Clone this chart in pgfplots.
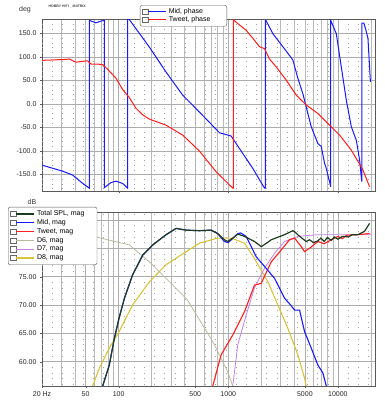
\documentclass[border=0pt]{standalone}
\usepackage{pgfplots}
\pgfplotsset{compat=1.18}
\usepackage{fontspec}
\setmainfont{Liberation Sans}

\definecolor{midc}{RGB}{25,25,255}
\definecolor{twc}{RGB}{255,30,30}
\definecolor{totc}{RGB}{30,60,30}
\definecolor{d6c}{RGB}{185,185,160}
\definecolor{d7c}{RGB}{195,130,225}
\definecolor{d8c}{RGB}{215,195,60}

\pgfplotsset{
  chk/.style={legend image code/.code={
     \draw[gray!80!black,fill=white,line width=0.4pt,solid,sharp corners] (0pt,-2.6pt) rectangle (5.5pt,2.6pt);
     \draw[#1,sharp corners] (5.5pt,0pt) -- (24pt,0pt);}},
}

\begin{document}
\begin{tikzpicture}
\useasboundingbox (0,0) rectangle (385pt,400pt);

\begin{axis}[scale only axis, width=333pt, height=172pt,
    at={(42pt,209pt)}, anchor=south west,
    xmode=log, xmin=20, xmax=21800,
    xtick={100,1000,10000}, xticklabels={},
    minor xtick={20,30,40,50,60,70,80,90,200,300,400,500,600,700,800,900,2000,3000,4000,5000,6000,7000,8000,9000,20000},
    xmajorgrids, xminorgrids, ymajorgrids,
    major grid style={gray!65, line width=0.5pt},
    minor grid style={gray!55, line width=0.4pt},
    axis line style={gray!70!black, line width=0.6pt},
    major tick length=2pt, minor tick length=0pt,
    tick pos=left, tick align=outside,
    tick style={gray!70!black},
    ticklabel style={font=\fontsize{7}{8}\selectfont, text=gray!30!black},
    ymin=-185, ymax=181, ytick={-150,-100,-50,0,50,100,150},
    yticklabels={-150.0,-100.0,-50.0,0.0,50.0,100.0,150.0},
    extra y ticks={-180,-170,-160,-140,-130,-120,-110,-90,-80,-70,-60,-40,-30,-20,-10,10,20,30,40,60,70,80,90,110,120,130,140,160,170},
    extra y tick labels={},
    extra y tick style={major tick length=0pt, grid=major,
       major grid style={gray!75, line width=0.7pt, dash pattern=on 0.7pt off 9.5pt}},
    legend cell align=left,
    legend style={font=\fontsize{7}{8}\selectfont, draw=gray!70!black, rounded corners=2pt,
       inner xsep=2pt, inner ysep=1pt, row sep=-2.2pt, fill=white,
       at={(0.294,1.081)}, anchor=north west},
  ]
\addplot[midc, line width=1pt, chk={midc,line width=1pt}] coordinates {
(20,-130)(31,-143)(38,-151)(46,-167)(54,-179)(54,178)(62,173)(70,177)(74,178)(74,-178)
(85.3,-167)(94.6,-164)(108.8,-169)(120.8,-179)(121,180)(125,180)(191,121)(271,68)(384,19)
(546,-17)(831,-61)(1062,-68)(1355,-105)(1675,-137)(2142,-179)(2180,-179)(2180,178)(2218,177)
(2548,150)(3148,122)(3881,94)(4312,55)(4790,22)(5711,-48)(6563,-84)(7047,-90)(7560,-126)
(7834,-137)(8570,-174)(8600,-176)(8600,178)(9666,150)(10740,79)(11930,8.5)(13250,-48)
(14720,-77)(15780,-119)(16500,-164)(16550,-164)(16550,172)(17270,172)(18170,154)(18800,140)
(19460,79)(19800,47)};
\addlegendentry{\makebox[54pt][l]{Mid, phase}}
\addplot[twc, line width=1pt, chk={twc,line width=1pt}] coordinates {
(20,93)(33.1,95)(35.5,96)(40.8,89)(46.9,91)(52.1,92)(56,85)(64.3,85)(71.5,84)(79.4,74)
(94.6,55)(108.8,31)(125,14)(144,-9)(166,-23)(191,-32)(271,-45)(384,-66)(546,-100)(775,-144)
(1099,-179)(1114,-179)(1114,180)(1140,177)(1456,157)(1675,140)(1927,122)(2142,118)(2378,96)
(2737,79)(3378,51)(4170,19)(5145,-2)(6563,-20)(7834,-38)(10370,-66)(13250,-98)(16910,-140)
(19460,-176)};
\addlegendentry{Tweet, phase}
\end{axis}

\begin{axis}[scale only axis, width=333pt, height=174pt,
    at={(42pt,14pt)}, anchor=south west,
    xmode=log, xmin=20, xmax=21800,
    xtick={20,50,100,500,1000,5000,10000},
    xticklabels={20 Hz,50,100,500,1000,5000,10000},
    minor xtick={20,30,40,50,60,70,80,90,200,300,400,500,600,700,800,900,2000,3000,4000,5000,6000,7000,8000,9000,20000},
    xmajorgrids, xminorgrids, ymajorgrids,
    major grid style={gray!65, line width=0.5pt},
    minor grid style={gray!55, line width=0.4pt},
    axis line style={gray!70!black, line width=0.6pt},
    major tick length=2pt, minor tick length=0pt,
    tick pos=left, tick align=outside,
    tick style={gray!70!black},
    ticklabel style={font=\fontsize{7}{8}\selectfont, text=gray!30!black},
    ymin=55.7, ymax=86.4, ytick={60,65,70,75,80,85},
    yticklabels={60.00,65.00,70.00,75.00,,},
    extra y ticks={56,57,58,59,61,62,63,64,66,67,68,69,71,72,73,74,76,77,78,79,81,82,83,84,86},
    extra y tick labels={},
    extra y tick style={major tick length=0pt, grid=major,
       major grid style={gray!75, line width=0.7pt, dash pattern=on 0.7pt off 9.5pt}},
    reverse legend,
    legend cell align=left,
    legend style={font=\fontsize{7}{8}\selectfont, draw=gray!70!black, rounded corners=2pt,
       inner xsep=2pt, inner ysep=1.5pt, row sep=-1.6pt, fill=white,
       at={(-0.102,1.029)}, anchor=north west},
  ]
\addplot[d8c, line width=1.1pt, chk={d8c,line width=1.1pt}] coordinates {
(57.9,55.7)(66.6,58.8)(82.2,62.4)(101,65.3)(134,70)(191,74.1)(271,77.1)(413,79.4)(546,80.9)
(801,81.8)(1062,81.8)(1406,80.9)(1734,78.2)(2294,74.1)(2832,70)(3493,65.9)(4312,61.2)
(4965,57.1)(5145,55.7)};
\addlegendentry{D8, mag}
\addplot[d7c, line width=0.8pt, chk={d7c,line width=0.8pt}] coordinates {
(1099,55.7)(1222,63)(1456,68.2)(1734,73)(2142,76.5)(2642,79.1)(3262,81.2)(4312,82.1)
(6563,82.4)(20180,82.4)};
\addlegendentry{D7, mag}
\addplot[d6c, line width=0.8pt, chk={d6c,line width=0.8pt}] coordinates {
(20,83.0)(40,82.6)(65,81.9)(125,80.6)(191,77.6)(290,74.1)(420,71.0)(546,67.4)(748,63)
(989,58.2)(1099,55.7)};
\addlegendentry{D6, mag}
\addplot[twc, line width=1.1pt, chk={twc,line width=1.1pt}] coordinates {
(722,55.7)(861,61.2)(1099,64.7)(1406,68.8)(1734,73.5)(1996,73.8)(2465,77.6)(3041,79.7)
(3620,81.5)(4024,81.8)(4632,80.3)(4965,79.4)(5513,80)(6563,81.2)(7500,80.8)(8703,81.5)
(10000,82.1)(11000,81.7)(12000,82.3)(15000,82.4)(19460,82.6)};
\addlegendentry{Tweet, mag}
\addplot[midc, line width=1.1pt, chk={midc,line width=1.1pt}] coordinates {
(71.5,55.7)(82.2,59.4)(91.4,64.1)(101,67.7)(113,71.2)(134,75.3)(166,78.8)(205,80.6)(271,82.4)
(334,83.5)(413,83.2)(546,83.1)(698,83.2)(800,82.6)(923,81.2)(1000,81.0)(1222,82.6)(1300,82.7)
(1456,82.1)(1600,80.5)(1798,78.5)(2142,76.8)(2642,74.7)(3262,71.2)(3700,70)(4024,69.1)
(4470,69.1)(4965,65.3)(5711,62.4)(6563,59.4)(7295,58)(7834,55.7)};
\addlegendentry{Mid, mag}
\addplot[totc, line width=1.2pt, chk={totc,line width=1.2pt}] coordinates {
(71.5,55.7)(82.2,59.4)(91.4,64.1)(101,67.7)(113,71.2)(134,75.3)(166,78.8)(205,80.6)(271,82.4)
(334,83.5)(413,83.2)(546,83.1)(698,83.2)(800,82.6)(923,81.5)(989,81.2)(1100,81.8)(1222,82.5)
(1406,82.1)(1734,81.2)(1996,80.3)(2200,80.8)(2465,81.5)(3262,82.4)(3881,83.1)(4100,82.8)
(4470,82.1)(5145,81.2)(5500,81.5)(6000,81.0)(6563,81.3)(7000,81.8)(7500,81.2)(8000,81.9)
(8703,81.4)(9300,82.0)(10000,81.6)(11000,82.1)(12500,82.0)(13500,82.4)(15240,82.4)
(17520,83)(19460,84.4)};
\addlegendentry{\makebox[56pt][l]{Total SPL, mag}}
\end{axis}

\node[font=\fontsize{7}{8}\selectfont, text=gray!40!black] at (25pt,390pt) {deg};
\node[font=\fontsize{7}{8}\selectfont, text=gray!40!black] at (32pt,198pt) {dB};
\node[font=\fontsize{3.5}{4}\selectfont\bfseries, text=gray!50!black, anchor=west] at (45pt,394pt) {HOBBY HIFI \_ MATRIX};
\end{tikzpicture}
\end{document}
